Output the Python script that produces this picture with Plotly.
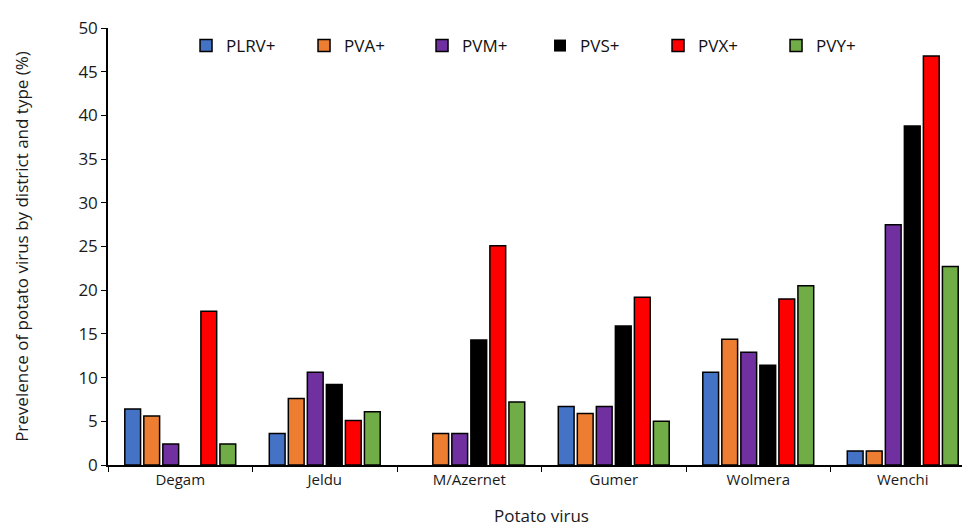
import plotly.graph_objects as go

districts = ["Degam", "Jeldu", "M/Azernet", "Gumer", "Wolmera", "Wenchi"]
series_names = ["PLRV+", "PVA+", "PVM+", "PVS+", "PVX+", "PVY+"]
plrv = [6.4, 3.6, 0, 6.7, 10.6, 1.6]
pva = [5.6, 7.6, 3.6, 5.9, 14.4, 1.6]
pvm = [2.4, 10.6, 3.6, 6.7, 12.9, 27.5]
pvs = [0, 9.2, 14.3, 15.9, 11.4, 38.8]
pvx = [17.6, 5.1, 25.1, 19.2, 19.0, 46.8]
pvy = [2.4, 6.1, 7.2, 5.0, 20.5, 22.7]
colors = ["#4472C4", "#ED7D31", "#7030A0", "#000000", "#FF0000", "#70AD47"]

fig = go.Figure()
for name, vals, col in zip(series_names, [plrv, pva, pvm, pvs, pvx, pvy], colors):
    widths = [1.5 if v > 0 else 0 for v in vals]
    fig.add_trace(go.Bar(x=districts, y=vals, name=name,
                         marker=dict(color=col, line=dict(color="black", width=widths))))

font = "Open Sans, Noto Sans, sans-serif"
fig.update_layout(
    width=970, height=531,
    margin=dict(l=100, r=3, t=20, b=74),
    paper_bgcolor="white", plot_bgcolor="white",
    barmode="group", bargap=0.21, bargroupgap=0.17,
    font=dict(family=font, size=15, color="#1a1a1a"),
    legend=dict(orientation="h", x=0.09, y=1.0, xanchor="left", yanchor="top",
                entrywidth=73, entrywidthmode="pixels", itemwidth=30,
                font=dict(size=17, color="#111"), bgcolor="rgba(0,0,0,0)"),
    xaxis=dict(showline=True, linecolor="black", linewidth=1.5,
               ticks="outside", tickson="boundaries", ticklen=5, tickcolor="black",
               title=dict(text="Potato virus", font=dict(size=17), standoff=22),
               tickfont=dict(size=15)),
    yaxis=dict(range=[0, 50], dtick=5, showline=True, linecolor="black", linewidth=1.5,
               ticks="outside", ticklen=5, tickcolor="black", showgrid=False,
               zeroline=False,
               title=dict(text="Prevelence of potato virus by district and type (%)",
                          font=dict(size=17), standoff=45),
               tickfont=dict(size=17)),
)
fig.write_html("out.html")
